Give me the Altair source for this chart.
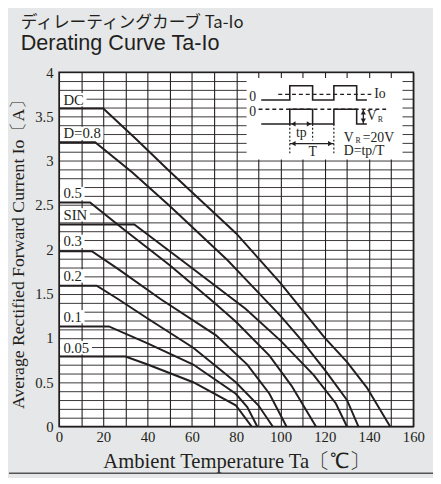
import altair as alt
import pandas as pd

# ---------------- data ----------------
series = ["DC", "D=0.8", "0.5", "SIN", "0.3", "0.2", "0.1", "0.05"]

dc_t = [0, 20, 35, 50, 65, 80, 100, 120, 130, 139, 149.5]
dc_i = [3.59, 3.59, 3.24, 2.88, 2.53, 2.18, 1.62, 1.0, 0.73, 0.44, 0]
d08_t = [0, 16.3, 33, 50, 76, 84, 100, 108.6, 120, 130, 135.2]
d08_i = [3.21, 3.21, 2.87, 2.49, 1.88, 1.67, 1.25, 1.0, 0.64, 0.3, 0]
d05_t = [0, 14, 30, 50, 70, 80, 95, 105, 116]
d05_i = [2.53, 2.53, 2.21, 1.82, 1.40, 1.18, 0.80, 0.46, 0]
sin_t = [0, 34, 60, 84.2, 100, 115, 125, 130]
sin_i = [2.28, 2.28, 1.79, 1.33, 0.97, 0.58, 0.26, 0]
d03_t = [0, 14.8, 26.6, 45.8, 70.9, 85, 95, 102.7]
d03_i = [1.98, 1.98, 1.78, 1.44, 1.03, 0.70, 0.37, 0]
d02_t = [0, 17, 26.6, 40, 60.6, 79.8, 90, 96.5]
d02_i = [1.59, 1.59, 1.44, 1.22, 0.89, 0.50, 0.24, 0]
d01_t = [0, 22.5, 40, 60.6, 79.8, 85, 89.5]
d01_i = [1.13, 1.13, 0.94, 0.70, 0.37, 0.22, 0]
d005_t = [0, 30, 40, 60.6, 79.8, 87]
d005_i = [0.79, 0.79, 0.70, 0.50, 0.24, 0]

curve_t = [dc_t, d08_t, d05_t, sin_t, d03_t, d02_t, d01_t, d005_t]
curve_i = [dc_i, d08_i, d05_i, sin_i, d03_i, d02_i, d01_i, d005_i]

label_text = ["DC", "D=0.8", "0.5", "SIN", "0.3", "0.2", "0.1", "0.05"]
label_t = [2.0] * 8
label_i = [3.69, 3.31, 2.63, 2.39, 2.09, 1.70, 1.24, 0.89]

x_ticks = list(range(0, 161, 10))
y_ticks = [round(k * 0.1, 1) for k in range(41)]

# inset diagram (in chart data units)
inset_t = [84.7, 155.1]
inset_i = [3.014, 3.934]
wave_t = [91.3, 104.2, 104.2, 114.5, 114.5, 124.1, 124.1, 134.4, 134.4, 139.0]
io_wave_i = [3.687, 3.687, 3.848, 3.848, 3.687, 3.687, 3.848, 3.848, 3.687, 3.687]
vr_wave_i = [3.416, 3.416, 3.582, 3.582, 3.416, 3.416, 3.582, 3.582, 3.416, 3.416]
dash_t1 = [99.0, 90.1]
dash_t2 = [141.0, 147.7]
dash_i = [3.749, 3.582]
dot_t = [104.2, 114.5, 124.1]
dot_i1 = [3.416, 3.416, 3.416]
dot_i2 = [3.084, 3.23, 3.084]
arrow_t1 = [104.2, 104.2, 137.4]
arrow_t2 = [114.5, 124.1, 137.4]
arrow_i1 = [3.416, 3.194, 3.582]
arrow_i2 = [3.416, 3.194, 3.416]
ctext = ["0", "0", "tp", "T"]
ctext_t = [87.4, 87.4, 109.4, 114.5]
ctext_i = [3.715, 3.55, 3.31, 3.10]
ltext = ["Io", "V", "V", "=20V", "D=tp/T"]
ltext_t = [142.3, 139.0, 128.6, 137.1, 128.6]
ltext_i = [3.75, 3.50, 3.255, 3.255, 3.115]
sub_text = ["R", "R"]
sub_t = [143.9, 133.9]
sub_i = [3.465, 3.22]

# ---------------- frames ----------------
rows = []
for name, ts, is_ in zip(series, curve_t, curve_i):
    for k, (t, i) in enumerate(zip(ts, is_)):
        rows.append({"series": name, "order": k, "t": t, "i": i})
curves = pd.DataFrame(rows)

# approximate glyph widths (em) of the serif face, to size the white label boxes
EM = {"D": 0.722, "C": 0.667, "=": 0.564, "0": 0.5, "5": 0.5, "8": 0.5, "3": 0.5,
      "2": 0.5, "1": 0.5, ".": 0.25, "S": 0.556, "I": 0.333, "N": 0.722}
PX_PER_DEG = 361 / 160
LABEL_FS = 15


def text_width_deg(s):
    return sum(EM.get(c, 0.5) for c in s) * LABEL_FS / PX_PER_DEG


labels = pd.DataFrame({
    "text": label_text, "t": label_t, "i": label_i,
    "t1": [0.5 for _ in label_t],
    "t2": [t + text_width_deg(s) + 1.2 for t, s in zip(label_t, label_text)],
    "i1": [i - 0.075 for i in label_i],
    "i2": [i + 0.075 for i in label_i],
})

INK = "#231f20"
SERIF = "Liberation Serif"

xs = alt.Scale(domain=[0, 160], nice=False)
ys = alt.Scale(domain=[0, 4], nice=False)

x_axis = alt.Axis(
    values=x_ticks, labelExpr="datum.value % 20 == 0 ? datum.label : ''",
    grid=True, gridColor=INK, gridWidth=1.1, gridOpacity=1, ticks=False, domain=False,
    labelFont=SERIF, labelFontSize=15, labelColor=INK, labelPadding=3,
    labelFlush=False, labelOverlap=False,
    title="Ambient Temperature Ta〔℃〕", titleFont=SERIF, titleFontSize=21,
    titleFontWeight="normal", titleColor=INK, titleX=180.5, titleY=42,
    titleBaseline="alphabetic", titleAlign="center",
)
y_axis = alt.Axis(
    values=y_ticks,
    labelExpr="datum.value * 2 == round(datum.value * 2) ? format(datum.value, '~g') : ''",
    grid=True, gridColor=INK, gridWidth=0.9, gridOpacity=1, ticks=False, domain=False,
    labelFont=SERIF, labelFontSize=15, labelColor=INK, labelPadding=6,
    labelOverlap=False,
    title="Average Rectified Forward Current Io〔A〕", titleFont=SERIF,
    titleFontSize=18, titleFontWeight="normal", titleColor=INK,
    titleX=-41, titleY=180.5, titleAngle=270, titleAlign="center",
    titleBaseline="middle",
)


def X(f):
    return alt.X(f, scale=xs, axis=x_axis)


def Y(f):
    return alt.Y(f, scale=ys, axis=y_axis)


base = alt.Chart(curves)

inset_df = pd.DataFrame({"t1": [inset_t[0]], "t2": [inset_t[1]], "i1": [inset_i[0]], "i2": [inset_i[1]]})
inset_box = alt.Chart(inset_df).mark_rect(color="white").encode(
    x=X("t1:Q"), x2="t2", y=Y("i1:Q"), y2="i2"
)

label_bg = alt.Chart(labels).mark_rect(color="white").encode(
    x=X("t1:Q"), x2="t2", y=Y("i1:Q"), y2="i2"
)

lines = base.mark_line(color=INK, strokeWidth=2, strokeJoin="miter").encode(
    x=X("t:Q"), y=Y("i:Q"), detail="series:N", order="order:Q",
)

label_txt = alt.Chart(labels).mark_text(
    align="left", baseline="middle", font=SERIF, fontSize=LABEL_FS, color=INK
).encode(x=X("t:Q"), y=Y("i:Q"), text="text:N")

# inset pieces
wave_rows = []
for name, wi in [("io", io_wave_i), ("vr", vr_wave_i)]:
    for k, (t, i) in enumerate(zip(wave_t, wi)):
        wave_rows.append({"w": name, "order": k, "t": t, "i": i})
waves = alt.Chart(pd.DataFrame(wave_rows)).mark_line(color=INK, strokeWidth=1.6).encode(
    x=X("t:Q"), y=Y("i:Q"), detail="w:N", order="order:Q"
)
dashes = alt.Chart(pd.DataFrame({"t1": dash_t1, "t2": dash_t2, "i": dash_i})).mark_rule(
    color=INK, strokeWidth=1.3, strokeDash=[4, 3]
).encode(x=X("t1:Q"), x2="t2", y=Y("i:Q"))
dots = alt.Chart(pd.DataFrame({"t": dot_t, "i1": dot_i1, "i2": dot_i2})).mark_rule(
    color=INK, strokeWidth=1.2, strokeDash=[2, 2]
).encode(x=X("t:Q"), y=Y("i1:Q"), y2="i2")
arrows = alt.Chart(pd.DataFrame({"t1": arrow_t1, "t2": arrow_t2, "i1": arrow_i1, "i2": arrow_i2})).mark_rule(
    color=INK, strokeWidth=1.3
).encode(x=X("t1:Q"), x2="t2", y=Y("i1:Q"), y2="i2")

head_df = pd.DataFrame({
    "t": [arrow_t1[0], arrow_t2[0], arrow_t1[1], arrow_t2[1], arrow_t1[2], arrow_t2[2]],
    "i": [arrow_i1[0], arrow_i2[0], arrow_i1[1], arrow_i2[1], arrow_i1[2], arrow_i2[2]],
    "shape": ["triangle-left", "triangle-right", "triangle-left", "triangle-right", "triangle-up", "triangle-down"],
    "dx": [1.6, -1.6, 1.6, -1.6, 0, 0],
    "di": [0, 0, 0, 0, -0.035, 0.035],
})
head_df["tt"] = head_df["t"] + head_df["dx"]
head_df["ii"] = head_df["i"] + head_df["di"]
heads = alt.Chart(head_df).mark_point(filled=True, color=INK, size=28, opacity=1).encode(
    x=X("tt:Q"), y=Y("ii:Q"), shape=alt.Shape("shape:N", scale=None),
)

ctext_l = alt.Chart(pd.DataFrame({"text": ctext, "t": ctext_t, "i": ctext_i})).mark_text(
    align="center", baseline="middle", font=SERIF, fontSize=14, color=INK
).encode(x=X("t:Q"), y=Y("i:Q"), text="text:N")
ltext_l = alt.Chart(pd.DataFrame({"text": ltext, "t": ltext_t, "i": ltext_i})).mark_text(
    align="left", baseline="middle", font=SERIF, fontSize=14, color=INK
).encode(x=X("t:Q"), y=Y("i:Q"), text="text:N")
sub_l = alt.Chart(pd.DataFrame({"text": sub_text, "t": sub_t, "i": sub_i})).mark_text(
    align="left", baseline="middle", font=SERIF, fontSize=8, color=INK
).encode(x=X("t:Q"), y=Y("i:Q"), text="text:N")

# bottom edge of the grey panel
frame_bottom = alt.Chart(pd.DataFrame({"k": [0]})).mark_rule(color="#555555", strokeWidth=1.5).encode(
    x=alt.value(-51), x2=alt.value(381), y=alt.value(408.5)
)

chart = alt.layer(
    inset_box, label_bg, lines, label_txt,
    waves, dashes, dots, arrows, heads, ctext_l, ltext_l, sub_l,
    frame_bottom,
).properties(
    width=361, height=361,
    autosize=alt.AutoSizeParams(type="none"),
    padding={"left": 52, "top": 61, "right": 20, "bottom": 48},
    title=alt.TitleParams(
        text="ディレーティングカーブ Ta-Io", subtitle="Derating  Curve  Ta-Io",
        anchor="start", frame="group", font="Noto Sans CJK JP", fontSize=17,
        fontWeight="normal", color=INK, subtitleFont="Liberation Sans",
        subtitleFontSize=22, subtitleColor=INK, subtitlePadding=1, dx=-39, offset=11,
    ),
).configure(background="#e6e7e8").configure_view(
    fill="white", stroke=INK, strokeWidth=1.5
)

chart.save("out.html", embed_options={"renderer": "svg", "actions": False})
